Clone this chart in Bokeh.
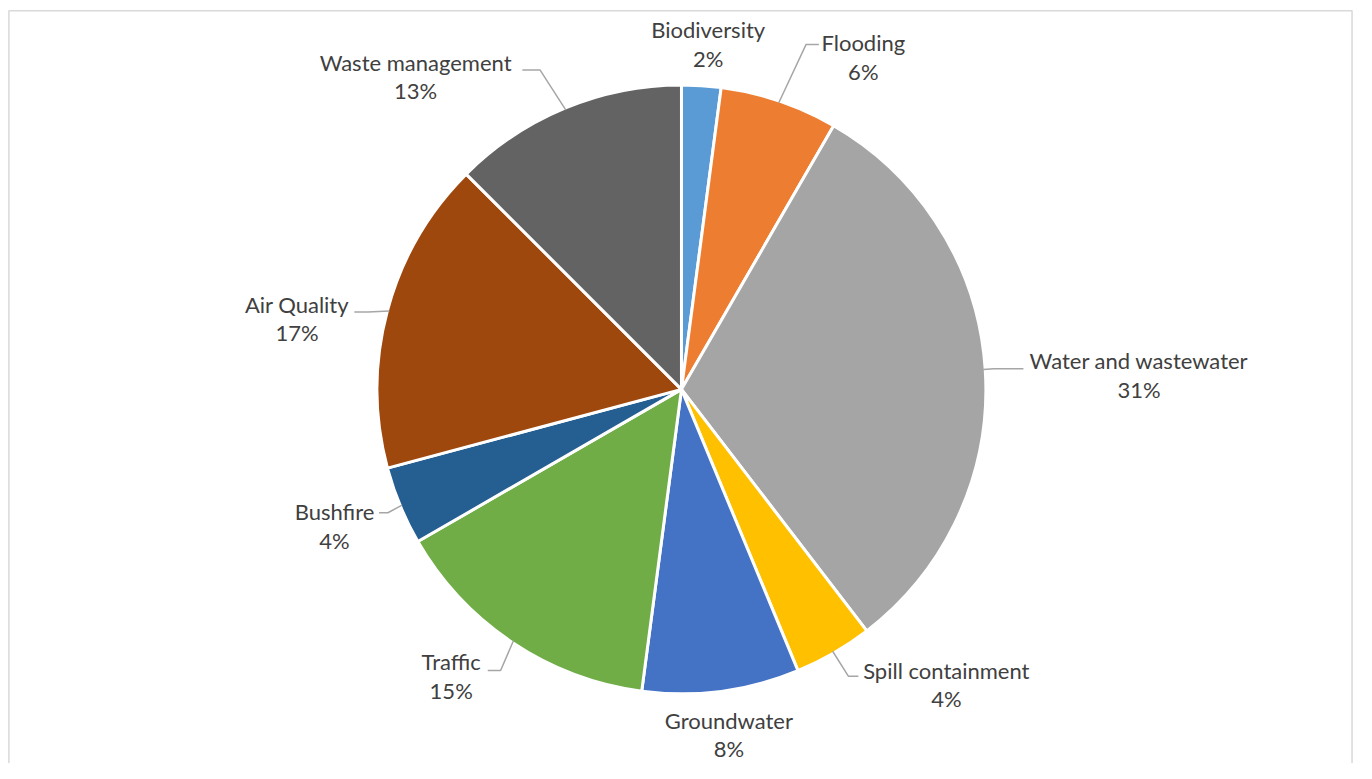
import math
from bokeh.plotting import figure
from bokeh.models import Range1d, ColumnDataSource
from bokeh.core.properties import value
from bokeh.embed import file_html
from bokeh.resources import INLINE

# ---- data ----
categories = ["Biodiversity", "Flooding", "Water and wastewater", "Spill containment",
              "Groundwater", "Traffic", "Bushfire", "Air Quality", "Waste management"]
counts = [1, 3, 15, 2, 4, 7, 2, 8, 6]
colors = ["#5B9BD5", "#ED7D31", "#A5A5A5", "#FFC000", "#4472C4",
          "#70AD47", "#255E91", "#9E480E", "#636363"]

# ---- layout (reference-image coordinates, y downward) ----
W, H = 1356, 763
REF_W, REF_H = 1372, 779
CX, CY, R = 689, 397, 308
label_x = [716, 873, 1152, 957, 737, 456, 338, 300, 420]
label_y = [30, 43, 368, 684, 735, 675, 522, 310, 63]
LINE_GAP = 29
# leader: (elbow_x, elbow_y, end_x, end_y) or None
leaders = [None, (815, 45, 828, 45), (1005, 376, 1035, 376), (858, 690, 868, 690), None,
           (506, 684, 493, 684), (392, 523, 383, 523), (372, 318, 358, 318), (546, 71, 528, 71)]

total = sum(counts)
fracs = [c / total for c in counts]
pct_labels = [f"{int(f * 100 + 0.5)}%" for f in fracs]

starts, ends, mids = [], [], []
cum = 0.0
for f in fracs:
    starts.append(math.pi / 2 - 2 * math.pi * cum)
    mids.append(cum + f / 2)
    cum += f
    ends.append(math.pi / 2 - 2 * math.pi * cum)

p = figure(width=W, height=H, output_backend="svg", toolbar_location=None,
           x_range=Range1d(0, REF_W), y_range=Range1d(-REF_H, 0),
           min_border=0, min_border_left=0, min_border_right=0,
           min_border_top=0, min_border_bottom=0)
p.axis.visible = False
p.grid.visible = False
p.outline_line_color = None
p.background_fill_color = "white"

# chart area border
p.quad(left=[8.5], right=[1367.5], top=[-10.5], bottom=[-900], fill_color=None,
       line_color="#D9D9D9", line_width=1.5)

src = ColumnDataSource(dict(cat=categories, start=starts, end=ends, color=colors))
p.wedge(x=CX, y=-CY, radius=R, radius_units="data", start_angle="start", end_angle="end",
        direction="clock", fill_color="color", line_color="white", line_width=3, source=src)

# leader lines
xs, ys = [], []
for m, ld in zip(mids, leaders):
    if ld is None:
        continue
    ang = 2 * math.pi * m
    sx = CX + (R - 2) * math.sin(ang)
    sy = CY - (R - 2) * math.cos(ang) * (REF_H / H) * (W / REF_W)
    xs.append([sx, ld[0], ld[2]])
    ys.append([-sy, -ld[1], -ld[3]])
p.multi_line(xs=xs, ys=ys, line_color="#A6A6A6", line_width=1.5)

font = value("Lato")
p.text(x=label_x, y=[-y for y in label_y], text=categories, text_align="center",
       text_baseline="middle", text_font=font, text_font_size="22px", text_color="#404040")
p.text(x=label_x, y=[-(y + LINE_GAP) for y in label_y], text=pct_labels, text_align="center",
       text_baseline="middle", text_font=font, text_font_size="22px", text_color="#404040")

open("out.html", "w").write(file_html(p, INLINE))
